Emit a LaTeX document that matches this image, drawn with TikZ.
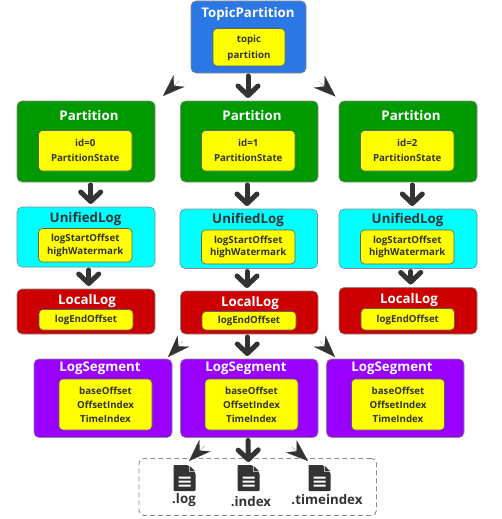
\documentclass[tikz,border=0pt]{standalone}
\usepackage{fontspec}
\setmainfont{Open Sans}
\usetikzlibrary{arrows.meta}
\definecolor{ink}{HTML}{333333}
\definecolor{edge}{HTML}{8A8A8A}
\definecolor{cblue}{HTML}{2B78E4}
\definecolor{cgreen}{HTML}{009900}
\definecolor{ccyan}{HTML}{00FFFF}
\definecolor{cred}{HTML}{CC0000}
\definecolor{cpurple}{HTML}{9900FF}
\definecolor{cyellow}{HTML}{FFFF00}
\tikzset{
  outerbox/.style={draw=edge,line width=.6pt,rounded corners=5pt,inner sep=0pt,outer sep=0pt},
  innerbox/.style={draw=edge!70!black,line width=.6pt,fill=cyellow,rounded corners=4pt,inner sep=0pt,outer sep=0pt,
    text=ink,align=center,font=\bfseries\fontsize{9.7}{15.5}\selectfont},
  title/.style={font=\bfseries\fontsize{13.3}{16}\selectfont,inner sep=0pt,yshift=-1.5pt},
  filelabel/.style={font=\bfseries\fontsize{13.3}{16}\selectfont,text=ink,inner sep=0pt,yshift=-1pt},
  down/.style={draw=ink,line width=5pt,-{Straight Barb[length=9.5pt,width=20pt,round]},line cap=round,shorten <=3pt,shorten >=3pt},
  diag/.style={draw=ink,line width=.1pt,-{Stealth[length=22pt,width=16pt,inset=7pt,color=ink,fill=ink]}},
  filedash/.style={draw=edge,line width=.9pt,dash pattern=on 5pt off 3pt,rounded corners=5pt},
  fileicon/.pic={
    \fill[ink,rounded corners=.8pt] (0,0) -- (14,0) -- (22,8) -- (22,26) -- (0,26) -- cycle;
    \fill[white] (15.5,0) -- (15.5,6.5) -- (22.5,6.5) -- (22.5,-.5) -- cycle;
    \fill[ink] (16,0.8) -- (21.5,6) -- (16,6) -- cycle;
    \fill[white] (5,11.5) rectangle (17,13.5) (5,15.5) rectangle (17,17.5) (5,19.5) rectangle (17,21.5);
  }
}
% \bx{name}{x1}{y1}{x2}{y2}{options}{text}
\newcommand{\bx}[7]{\node[#6,anchor=north west,minimum width=#4pt-#2pt,minimum height=#5pt-#3pt] (#1) at (#2,#3) {#7};}
\newcommand{\lift}[2]{\raisebox{#1pt}{\begin{tabular}{@{}c@{}}#2\end{tabular}}}
\begin{document}
\begin{tikzpicture}[x=1pt,y=-1pt]
\useasboundingbox (0,0) rectangle (502,519);
% TopicPartition
\bx{tp}{191}{1}{306}{73}{outerbox,fill=cblue}{}
\node[title,text=white] (tpt) at (248,12.5) {TopicPartition};
\bx{tpi}{213}{28.5}{285}{66}{innerbox}{\lift{1.5}{topic\\partition}}
% Partitions
\bx{pa}{17}{101}{155}{182}{outerbox,fill=cgreen}{}
\bx{pb}{180.5}{101}{318}{182}{outerbox,fill=cgreen}{}
\bx{pc}{339}{101}{477}{182}{outerbox,fill=cgreen}{}
\node[title,text=white] (pat) at (89,114) {Partition};
\node[title,text=white] (pbt) at (252,114) {Partition};
\node[title,text=white] (pct) at (411,114) {Partition};
\bx{pai}{38.5}{130.5}{132}{171}{innerbox}{\lift{2.5}{id=0\\PartitionState}}
\bx{pbi}{201.5}{130.5}{295}{171}{innerbox}{\lift{2.5}{id=1\\PartitionState}}
\bx{pci}{360.5}{130.5}{454}{171}{innerbox}{\lift{2.5}{id=2\\PartitionState}}
% UnifiedLogs
\tikzset{ulin/.style={innerbox,font=\bfseries\fontsize{9.7}{12.5}\selectfont}}
\bx{ua}{17}{207}{155}{267}{outerbox,fill=ccyan}{}
\bx{ub}{180}{209}{317.5}{268.5}{outerbox,fill=ccyan}{}
\bx{uc}{339}{209}{477}{268.5}{outerbox,fill=ccyan}{}
\node[title,text=ink] (uat) at (85.5,217.5) {UnifiedLog};
\node[title,text=ink] (ubt) at (248,219) {UnifiedLog};
\node[title,text=ink] (uct) at (407.5,219) {UnifiedLog};
\bx{uai}{38.5}{228.5}{132}{262}{ulin}{logStartOffset\\highWatermark}
\bx{ubi}{201.5}{230}{295}{264}{ulin}{logStartOffset\\highWatermark}
\bx{uci}{360.5}{230}{454}{264}{ulin}{logStartOffset\\highWatermark}
% LocalLogs
\bx{la}{17}{289}{155}{334}{outerbox,fill=cred}{}
\bx{lb}{180.5}{291}{318}{334}{outerbox,fill=cred}{}
\bx{lc}{339}{287.5}{477}{334}{outerbox,fill=cred}{}
\node[title,text=white] (lat) at (87,300) {LocalLog};
\node[title,text=white] (lbt) at (250,302) {LocalLog};
\node[title,text=white] (lct) at (409,299) {LocalLog};
\bx{lai}{39}{309.5}{133}{330}{innerbox}{\lift{1.5}{logEndOffset}}
\bx{lbi}{202}{311.5}{296}{330}{innerbox}{logEndOffset}
\bx{lci}{361}{308.5}{454.5}{330}{innerbox}{\lift{1}{logEndOffset}}
% LogSegments
\tikzset{lsin/.style={innerbox,font=\bfseries\fontsize{9.7}{14}\selectfont}}
\bx{sa}{34}{359}{172}{437.5}{outerbox,fill=cpurple}{}
\bx{sb}{180.5}{359}{318}{437.5}{outerbox,fill=cpurple}{}
\bx{sc}{326.5}{359}{464}{437.5}{outerbox,fill=cpurple}{}
\node[title,text=white] (sat) at (100,367) {LogSegment};
\node[title,text=white] (sbt) at (246,367) {LogSegment};
\node[title,text=white] (sct) at (392,367) {LogSegment};
\bx{sai}{59}{379}{152}{430}{lsin}{baseOffset\\OffsetIndex\\TimeIndex}
\bx{sbi}{205}{379}{298}{430}{lsin}{baseOffset\\OffsetIndex\\TimeIndex}
\bx{sci}{351.5}{379}{444.5}{430}{lsin}{baseOffset\\OffsetIndex\\TimeIndex}
% Files group
\bx{group}{138.5}{458}{376}{515}{filedash}{}
\pic at (173.5,465) {fileicon};
\pic at (237.5,465) {fileicon};
\pic at (308.5,465) {fileicon};
\node[filelabel] (flog) at (184,499) {.log};
\node[filelabel] (findex) at (251,500.5) {.index};
\node[filelabel] (ftime) at (327,499) {.timeindex};
% straight connectors
\draw[down] ([xshift=-.5pt]tp.south) -- ([xshift=-1.25pt]pb.north);
\draw[down] ([xshift=4.7pt]pa.south) -- ([xshift=4.7pt]ua.north);
\draw[down] ([xshift=-2.25pt]pb.south) -- ([xshift=-1.75pt]ub.north);
\draw[down] ([xshift=4.3pt]pc.south) -- ([xshift=4.3pt]uc.north);
\draw[down] ([xshift=2.7pt]ua.south) -- ([xshift=2.7pt]la.north);
\draw[down] ([xshift=-1.75pt]ub.south) -- ([xshift=-2.25pt]lb.north);
\draw[down] ([xshift=2.7pt]uc.south) -- ([xshift=2.7pt]lc.north);
\draw[down] ([xshift=-2pt]lb.south) -- ([xshift=-2pt]sb.north);
\draw[down] ([xshift=-1.25pt]sb.south) -- ([xshift=-9.25pt,yshift=-7pt]group.north);
% diagonal connectors
\draw[diag] ([xshift=-12pt,yshift=-8pt]tp.south west) -- ([xshift=8pt,yshift=5pt]pa.north east);
\draw[diag] ([xshift=13pt,yshift=-8.5pt]tp.south east) -- ([xshift=-3.5pt,yshift=4.5pt]pc.north west);
\draw[diag] ([xshift=2.5pt,yshift=-7.5pt]lb.south west) -- ([xshift=-4pt,yshift=2pt]sa.north east);
\draw[diag] ([xshift=2pt,yshift=-7.5pt]lb.south east) -- ([xshift=8.5pt,yshift=2pt]sc.north west);
\draw[diag] ([xshift=-44.75pt,yshift=-8.5pt]sb.south) -- ([xshift=50.5pt,yshift=-3pt]group.north west);
\draw[diag] ([xshift=42.75pt,yshift=-9.5pt]sb.south) -- ([xshift=169.5pt,yshift=-3pt]group.north west);
\end{tikzpicture}
\end{document}
